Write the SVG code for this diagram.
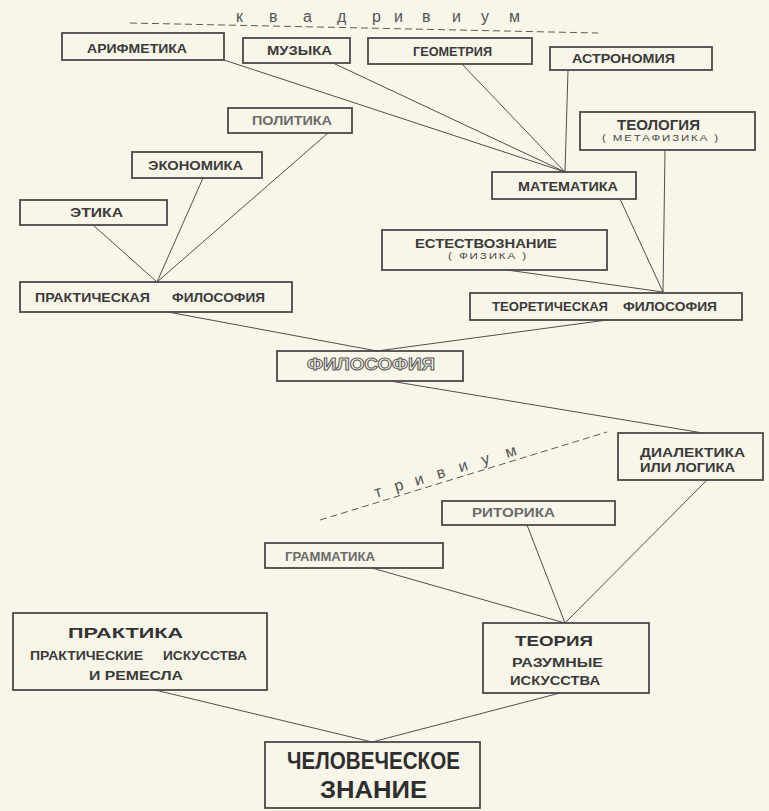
<svg xmlns="http://www.w3.org/2000/svg" width="769" height="811" viewBox="0 0 769 811">
<style>
.bg{fill:#f8f5e9}
.box{fill:none;stroke:#4a4a4a;stroke-width:1.8}
.ln{stroke:#4f4f4f;stroke-width:1;fill:none}
.dash{stroke:#5a5a5a;stroke-width:1;fill:none;stroke-dasharray:7 4}
.t{font-family:"Liberation Sans",Arial,sans-serif;font-weight:bold;font-size:12.5px;fill:#3a3a3a}
.tl{font-family:"Liberation Sans",Arial,sans-serif;font-weight:bold;font-size:12.5px;fill:#6b6b6b}
.ts{font-family:"Liberation Sans",Arial,sans-serif;font-size:9px;fill:#4a4a4a;letter-spacing:1.5px}
.th{font-family:"Liberation Sans",Arial,sans-serif;font-weight:900;font-size:15px;fill:#333}
.tbig{font-family:"Liberation Sans",Arial,sans-serif;font-weight:bold;font-size:23px;fill:#2e2e2e}
.tout{font-family:"Liberation Sans",Arial,sans-serif;font-weight:bold;font-size:17px;fill:#f8f5e9;stroke:#5a5a5a;stroke-width:1}
.sp{font-family:"Liberation Sans",Arial,sans-serif;font-size:16px;fill:#555}
</style>
<rect class="bg" x="0" y="0" width="769" height="811"/>

<g id="connectors">
  <line class="dash" x1="130" y1="23" x2="598" y2="33"/>
  <line class="dash" x1="320" y1="520" x2="607" y2="432"/>
  <line class="ln" x1="224" y1="60" x2="565" y2="172"/>
  <line class="ln" x1="333" y1="63" x2="565" y2="172"/>
  <line class="ln" x1="462" y1="64" x2="565" y2="172"/>
  <line class="ln" x1="568" y1="70" x2="565" y2="172"/>
  <line class="ln" x1="665" y1="150" x2="663" y2="292"/>
  <line class="ln" x1="620" y1="199" x2="663" y2="292"/>
  <line class="ln" x1="507" y1="270" x2="663" y2="292"/>
  <line class="ln" x1="93" y1="225" x2="157" y2="282"/>
  <line class="ln" x1="203" y1="178" x2="157" y2="282"/>
  <line class="ln" x1="328" y1="133" x2="157" y2="282"/>
  <line class="ln" x1="168" y1="312" x2="377" y2="351"/>
  <line class="ln" x1="607" y1="320" x2="377" y2="351"/>
  <line class="ln" x1="390" y1="381" x2="703" y2="433"/>
  <line class="ln" x1="372" y1="568" x2="565" y2="623"/>
  <line class="ln" x1="527" y1="525" x2="565" y2="623"/>
  <line class="ln" x1="707" y1="480" x2="565" y2="623"/>
  <line class="ln" x1="155" y1="690" x2="372" y2="742"/>
  <line class="ln" x1="560" y1="693" x2="372" y2="742"/>
</g>

<g id="label-kvadrivium">
  <text class="sp" x="236 269 303 337 372 394 422 452 481 509" y="22">квадривиум</text>
</g>
<g id="label-trivium">
  <text class="sp" transform="translate(376,498) rotate(-17)" x="0 21 42 65 88 112 137" y="0">тривиум</text>
</g>

<g id="n-arifmetika">
  <rect class="box" x="62" y="33" width="162" height="27"/>
  <text class="t" x="87" y="52.5" textLength="100" lengthAdjust="spacingAndGlyphs">АРИФМЕТИКА</text>
</g>
<g id="n-muzyka">
  <rect class="box" x="243" y="38" width="107" height="25"/>
  <text class="t" x="267" y="55" textLength="65" lengthAdjust="spacingAndGlyphs">МУЗЫКА</text>
</g>
<g id="n-geometriya">
  <rect class="box" x="368" y="38" width="164" height="26"/>
  <text class="t" x="413" y="56" textLength="79" lengthAdjust="spacingAndGlyphs">ГЕОМЕТРИЯ</text>
</g>
<g id="n-astronomiya">
  <rect class="box" x="550" y="47" width="162" height="23"/>
  <text class="t" x="572" y="63" textLength="103" lengthAdjust="spacingAndGlyphs">АСТРОНОМИЯ</text>
</g>
<g id="n-teologiya">
  <rect class="box" x="580" y="112" width="175" height="38"/>
  <text class="t" x="617" y="130" style="font-size:14px" textLength="83" lengthAdjust="spacingAndGlyphs">ТЕОЛОГИЯ</text>
  <text class="ts" x="602" y="141" textLength="118" lengthAdjust="spacingAndGlyphs">( МЕТАФИЗИКА )</text>
</g>
<g id="n-politika">
  <rect class="box" x="228" y="108" width="124" height="25"/>
  <text class="tl" x="252" y="125" textLength="80" lengthAdjust="spacingAndGlyphs">ПОЛИТИКА</text>
</g>
<g id="n-ekonomika">
  <rect class="box" x="132" y="152" width="130" height="26"/>
  <text class="t" x="148" y="170" textLength="95" lengthAdjust="spacingAndGlyphs">ЭКОНОМИКА</text>
</g>
<g id="n-etika">
  <rect class="box" x="20" y="200" width="147" height="25"/>
  <text class="t" x="70" y="217" textLength="53" lengthAdjust="spacingAndGlyphs">ЭТИКА</text>
</g>
<g id="n-matematika">
  <rect class="box" x="492" y="172" width="144" height="27"/>
  <text class="t" x="518" y="190.5" textLength="100" lengthAdjust="spacingAndGlyphs">МАТЕМАТИКА</text>
</g>
<g id="n-estestvoznanie">
  <rect class="box" x="382" y="230" width="225" height="40"/>
  <text class="t" x="415" y="248" textLength="142" lengthAdjust="spacingAndGlyphs">ЕСТЕСТВОЗНАНИЕ</text>
  <text class="ts" x="448" y="259" textLength="80" lengthAdjust="spacingAndGlyphs">( ФИЗИКА )</text>
</g>
<g id="n-prakt-filosofiya">
  <rect class="box" x="20" y="282" width="272" height="30"/>
  <text class="t" x="35" y="302" textLength="115" lengthAdjust="spacingAndGlyphs">ПРАКТИЧЕСКАЯ</text>
  <text class="t" x="172" y="302" textLength="93" lengthAdjust="spacingAndGlyphs">ФИЛОСОФИЯ</text>
</g>
<g id="n-teor-filosofiya">
  <rect class="box" x="470" y="293" width="272" height="27"/>
  <text class="t" x="492" y="311" textLength="116" lengthAdjust="spacingAndGlyphs">ТЕОРЕТИЧЕСКАЯ</text>
  <text class="t" x="623" y="311" textLength="94" lengthAdjust="spacingAndGlyphs">ФИЛОСОФИЯ</text>
</g>
<g id="n-filosofiya">
  <rect class="box" x="277" y="351" width="186" height="30"/>
  <text class="tout" x="307" y="370" textLength="128" lengthAdjust="spacingAndGlyphs">ФИЛОСОФИЯ</text>
</g>
<g id="n-dialektika">
  <rect class="box" x="618" y="433" width="145" height="47"/>
  <text class="t" x="640" y="457" textLength="105" lengthAdjust="spacingAndGlyphs">ДИАЛЕКТИКА</text>
  <text class="t" x="640" y="472" textLength="95" lengthAdjust="spacingAndGlyphs">ИЛИ ЛОГИКА</text>
</g>
<g id="n-ritorika">
  <rect class="box" x="442" y="501" width="173" height="24"/>
  <text class="tl" x="472" y="517" textLength="83" lengthAdjust="spacingAndGlyphs">РИТОРИКА</text>
</g>
<g id="n-grammatika">
  <rect class="box" x="265" y="543" width="178" height="25"/>
  <text class="tl" x="285" y="561" textLength="90" lengthAdjust="spacingAndGlyphs">ГРАММАТИКА</text>
</g>
<g id="n-praktika">
  <rect class="box" x="13" y="613" width="254" height="77"/>
  <text class="th" x="68" y="638" textLength="115" lengthAdjust="spacingAndGlyphs">ПРАКТИКА</text>
  <text class="t" x="30" y="660" textLength="113" lengthAdjust="spacingAndGlyphs">ПРАКТИЧЕСКИЕ</text>
  <text class="t" x="163" y="660" textLength="84" lengthAdjust="spacingAndGlyphs">ИСКУССТВА</text>
  <text class="t" x="89" y="680" textLength="94" lengthAdjust="spacingAndGlyphs">И РЕМЕСЛА</text>
</g>
<g id="n-teoriya">
  <rect class="box" x="483" y="623" width="166" height="70"/>
  <text class="th" x="515" y="646" textLength="78" lengthAdjust="spacingAndGlyphs">ТЕОРИЯ</text>
  <text class="t" x="512" y="667" textLength="91" lengthAdjust="spacingAndGlyphs">РАЗУМНЫЕ</text>
  <text class="t" x="510" y="685" textLength="90" lengthAdjust="spacingAndGlyphs">ИСКУССТВА</text>
</g>
<g id="n-chelovecheskoe-znanie">
  <rect class="box" x="265" y="742" width="215" height="66"/>
  <text class="tbig" x="287" y="769" textLength="173" lengthAdjust="spacingAndGlyphs">ЧЕЛОВЕЧЕСКОЕ</text>
  <text class="tbig" x="320" y="798" textLength="107" lengthAdjust="spacingAndGlyphs">ЗНАНИЕ</text>
</g>
</svg>
